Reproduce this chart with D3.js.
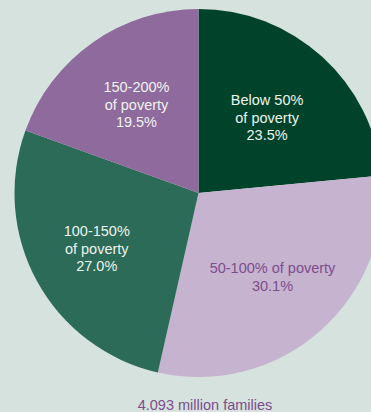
<!DOCTYPE html>
<html>
<head>
<meta charset="utf-8">
<script src="https://cdn.jsdelivr.net/npm/d3@7"></script>
<style>
  html, body { margin: 0; padding: 0; background: #d5e2dd; }
  svg { display: block; }
</style>
</head>
<body>
<div id="chart"></div>
<script>
const categories = ['Below 50%\nof poverty', '50-100% of poverty', '100-150%\nof poverty', '150-200%\nof poverty'];
const shares = [23.5, 30.1, 27.0, 19.5];
const sliceColors = ['#00432a', '#c6b3cf', '#2b6b57', '#8f6a9c'];
const labelColors = ['#eef3ef', '#7d4d8d', '#eef3ef', '#eef3ef'];
const totalLabel = '4.093 million families';

let width = 371,
    height = 412,
    cx = 198.5,
    cy = 193,
    radius = 184,
    labelRadii = [102, 112, 116, 108], // label distance from centre, per slice
    font = 'Liberation Sans, Arial, Helvetica, sans-serif';

const data = categories.map((c, i) => ({name: c, value: shares[i], color: sliceColors[i], text: labelColors[i]}));

let svg = d3.select('#chart').append('svg')
    .attr('width', width)
    .attr('height', height);

svg.append('rect')
    .attr('width', width)
    .attr('height', height)
    .attr('fill', '#d5e2dd');

let g = svg.append('g')
    .attr('transform', `translate(${cx}, ${cy})`);

const pie = d3.pie()
    .value(d => d.value)
    .sort(null);

const arc = d3.arc()
    .innerRadius(0)
    .outerRadius(radius);

const arcs = pie(data);

g.selectAll('path')
    .data(arcs)
    .join('path')
    .attr('d', arc)
    .attr('fill', d => d.data.color);

const labels = g.selectAll('text')
    .data(arcs)
    .join('text')
    .attr('text-anchor', 'middle')
    .style('font-family', font)
    .style('font-size', '14.5px')
    .attr('fill', d => d.data.text)
    .attr('transform', (d, i) => {
        const r = labelRadii[i];
        const pos = d3.arc().innerRadius(r).outerRadius(r).centroid(d);
        return `translate(${pos})`;
    });

labels.each(function (d) {
    const lines = `${d.data.name}\n${d.data.value.toFixed(1)}%`.split('\n');
    const lineHeight = 17.5;
    const start = -((lines.length - 1) * lineHeight) / 2;
    d3.select(this).selectAll('tspan')
        .data(lines)
        .join('tspan')
        .attr('x', 0)
        .attr('y', (l, i) => start + i * lineHeight)
        .attr('dy', '0.35em')
        .text(l => l);
});

svg.append('text')
    .attr('x', 205)
    .attr('y', 405)
    .attr('dy', '0.35em')
    .attr('text-anchor', 'middle')
    .style('font-family', font)
    .style('font-size', '14.5px')
    .attr('fill', '#7d4d8d')
    .text(totalLabel);
</script>
</body>
</html>
